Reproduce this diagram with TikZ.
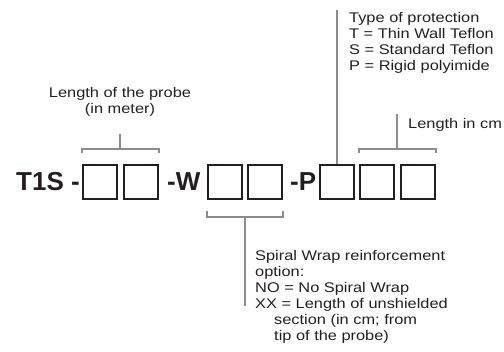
\documentclass[tikz,border=0pt]{standalone}
\usepackage{fontspec}
\setmainfont{Liberation Sans}
\newfontfamily\labfont{Liberation Sans}[FakeStretch=1.17]
\usetikzlibrary{calc}
\definecolor{ink}{HTML}{231F20}
\definecolor{leader}{HTML}{8C8C8C}
\begin{document}
\begin{tikzpicture}[x=1pt,y=-1pt,
  box/.style={draw=ink,line width=2pt,minimum width=34pt,minimum height=34pt,inner sep=0pt},
  lead/.style={draw=leader,line width=2pt},
  lab/.style={font=\labfont\fontsize{14}{16}\selectfont,text=ink,inner sep=0pt,align=left},
  codetext/.style={font=\bfseries\fontsize{26}{30}\selectfont,text=ink,inner sep=0pt,anchor=base west}]
\useasboundingbox (0,0) rectangle (504,352);
% boxes
\node[box] (b1) at (99.5,182) {};
\node[box] (b2) at (140.5,182) {};
\node[box] (b3) at (224.5,182) {};
\node[box] (b4) at (265,182) {};
\node[box] (b5) at (336.5,182) {};
\node[box] (b6) at (377,182) {};
\node[box] (b7) at (417.5,182) {};
% code text
\node[codetext] (t1s) at (16,191) {T1S -};
\node[codetext] (w) at (167,191) {-W};
\node[codetext] (p) at (290,191) {-P};
% labels
\node[lab,align=center,anchor=north] (lp) at (120,87.5) {Length of the probe\\(in meter)};
\node[lab,anchor=north west] (tp) at (349,11.8) {Type of protection\\T = Thin Wall Teflon\\S = Standard Teflon\\P = Rigid polyimide};
\node[lab,anchor=north west] (lc) at (408,117.8) {Length in cm};
\node[lab,anchor=north west] (sw) at (255,249.8) {Spiral Wrap reinforcement\\option:\\NO = No Spiral Wrap\\XX = Length of unshielded\\\hspace*{19pt}section (in cm; from\\\hspace*{19pt}tip of the probe)};
% bracket over b1-b2
\draw[lead] ([yshift=11pt]b1.north west) -- ([yshift=15pt]b1.north west) coordinate (l1)
  -- ([yshift=15pt]b2.north east) coordinate (r1) -- ([yshift=11pt]b2.north east);
\coordinate (m1) at ($(l1)!0.5!(r1)$);
\coordinate (e1) at ($(m1)+(0,-15)$);
\draw[lead] (m1) -- (e1);
% bracket under b3-b4
\draw[lead] ([yshift=-11pt]b3.south west) -- ([yshift=-17pt]b3.south west) coordinate (l2)
  -- ([yshift=-17pt]b4.south east) coordinate (r2) -- ([yshift=-11pt]b4.south east);
\coordinate (m2) at ($(l2)!0.5!(r2)$);
\coordinate (e2) at ($(m2)+(0,89)$);
\draw[lead] (m2) -- (e2);
% bracket over b6-b7
\draw[lead] ([yshift=11pt]b6.north west) -- ([yshift=15pt]b6.north west) coordinate (l3)
  -- ([yshift=15pt]b7.north east) coordinate (r3) -- ([yshift=11pt]b7.north east);
\coordinate (m3) at ($(l3)!0.5!(r3)$);
\coordinate (e3) at ($(m3)+(0,-35)$);
\draw[lead] (m3) -- (e3);
% leader from b5 to type of protection
\coordinate (e4) at (336.5,10);
\draw[lead] (b5.north) -- (e4);
\end{tikzpicture}
\end{document}
